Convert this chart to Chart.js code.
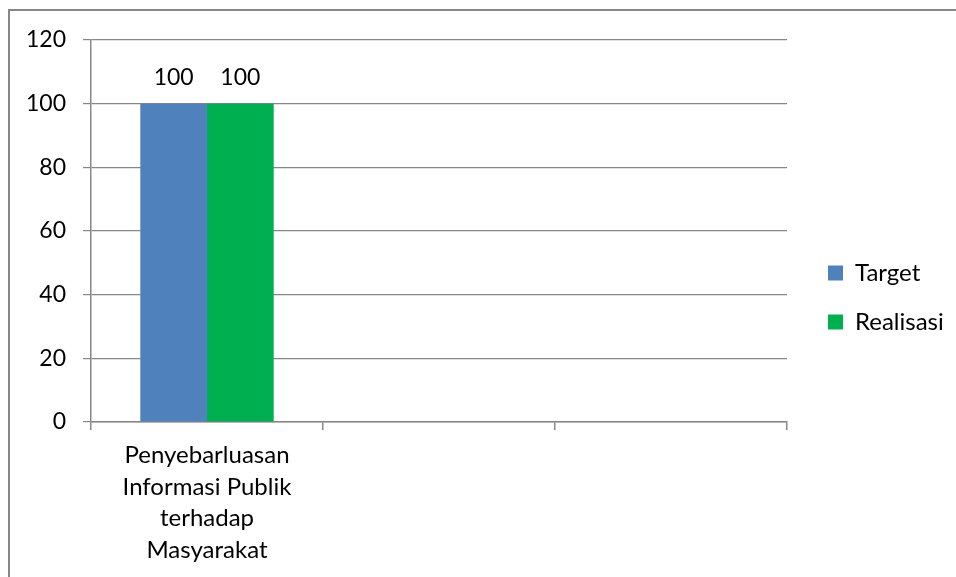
<!DOCTYPE html>
<html>
<head>
<meta charset="utf-8">
<script src="https://cdn.jsdelivr.net/npm/chart.js@4/dist/chart.umd.min.js"></script>
<style>
  html, body { margin: 0; padding: 0; background: #ffffff; overflow: hidden; }
  #wrap { position: relative; width: 956px; height: 577px; }
  #frame {
    position: absolute; left: 8px; top: 9px; width: 1200px; height: 900px;
    border-left: 2px solid #878787; border-top: 2px solid #878787; box-sizing: border-box;
  }
  #c { position: absolute; left: 0; top: 0; }
</style>
</head>
<body>
<div id="wrap">
  <div id="frame"></div>
  <canvas id="c" width="956" height="577"></canvas>
</div>
<script>
// Categories (multi-line label for the first one) and series values
const categories = [
  ['Penyebarluasan', 'Informasi Publik', 'terhadap', 'Masyarakat'],
  '',
  ''
];
const targetValues = [100, null, null];
const realisasiValues = [100, null, null];
const seriesNames = ['Target', 'Realisasi'];
const yTicks = { min: 0, max: 120, step: 20 };

const FONT = 'Lato, "Open Sans", sans-serif';
const NUM_SIZE = 23;
const TEXT_SIZE = 24;
const AXIS_GREY = '#878787';

// Draws each bar's value above it
const valueLabels = {
  id: 'valueLabels',
  afterDatasetsDraw(chart) {
    const ctx = chart.ctx;
    ctx.save();
    ctx.font = NUM_SIZE + 'px ' + FONT;
    ctx.fillStyle = '#000000';
    ctx.textAlign = 'center';
    ctx.textBaseline = 'bottom';
    chart.data.datasets.forEach((ds, i) => {
      const meta = chart.getDatasetMeta(i);
      meta.data.forEach((bar, j) => {
        const v = ds.data[j];
        if (v === null || v === undefined) return;
        ctx.fillText(String(v), bar.x, bar.y - 15);
      });
    });
    ctx.restore();
  }
};

// Gives the legend a fixed column width, sets it a little away from the plot
// and centres it vertically on the whole frame
const legendPlacement = {
  id: 'legendPlacement',
  beforeLayout(chart) {
    const L = chart.legend;
    if (L && !L._fixedFit) {
      const fit = L.fit;
      L.fit = function () { fit.call(this); this.width = 169; };
      L._fixedFit = true;
    }
  },
  afterLayout(chart) {
    const L = chart.legend;
    if (!L) return;
    const w = L.right - L.left;
    L.left = chart.chartArea.right + 16;
    L.right = L.left + w;
    L.top = 10;
    L.bottom = 585;
  }
};

new Chart(document.getElementById('c'), {
  type: 'bar',
  data: {
    labels: categories,
    datasets: [
      { label: seriesNames[0], data: targetValues, backgroundColor: '#4f81bd', borderWidth: 0 },
      { label: seriesNames[1], data: realisasiValues, backgroundColor: '#00b050', borderWidth: 0 }
    ]
  },
  options: {
    responsive: false,
    animation: false,
    events: [],
    layout: { padding: { left: 10, top: 40, right: 0, bottom: 0 } },
    categoryPercentage: 0.575,
    barPercentage: 1.0,
    plugins: {
      legend: {
        position: 'right',
        align: 'center',
        labels: {
          boxWidth: 15,
          boxHeight: 15,
          padding: 25,
          color: '#000000',
          font: { family: FONT, size: TEXT_SIZE }
        }
      },
      tooltip: { enabled: false },
      title: { display: false }
    },
    scales: {
      x: {
        grid: {
          offset: true,
          drawOnChartArea: false,
          drawTicks: true,
          tickLength: 8,
          lineWidth: 1.5,
          color: AXIS_GREY
        },
        border: { display: true, color: AXIS_GREY, width: 1.5 },
        ticks: {
          color: '#000000',
          padding: 10,
          maxRotation: 0,
          autoSkip: false,
          font: { family: FONT, size: TEXT_SIZE, lineHeight: 1.31 }
        },
        afterFit(scale) { scale.height = 155; }
      },
      y: {
        min: yTicks.min,
        max: yTicks.max,
        grid: {
          color: AXIS_GREY,
          lineWidth: 1.2,
          drawTicks: true,
          tickLength: 8
        },
        border: { display: true, color: AXIS_GREY, width: 1.5 },
        ticks: {
          stepSize: yTicks.step,
          color: '#000000',
          padding: 17,
          font: { family: FONT, size: NUM_SIZE }
        },
        afterFit(scale) { scale.width = 81; }
      }
    }
  },
  plugins: [valueLabels, legendPlacement]
});
</script>
</body>
</html>
